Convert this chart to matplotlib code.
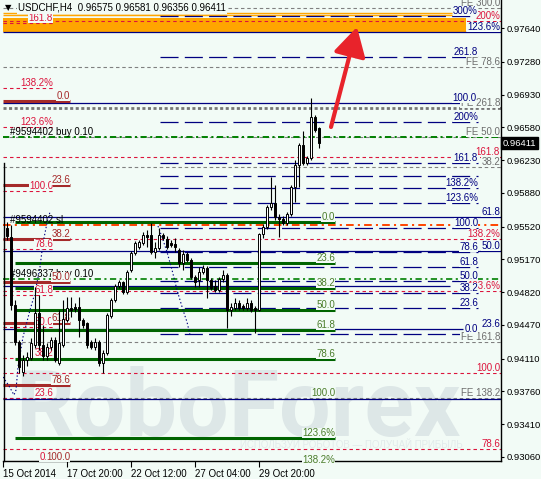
import matplotlib
matplotlib.use('Agg')
import matplotlib.pyplot as plt
import matplotlib.transforms as mtransforms
from matplotlib.patches import Rectangle, FancyArrowPatch

plt.rcParams['font.family'] = ['Liberation Sans', 'DejaVu Sans']
plt.rcParams['lines.scale_dashes'] = False

BG = '#f2fbf6'

# --- datos (USDCHF H4) ---
symbol_title = 'USDCHF,H4  0.96575 0.96581 0.96356 0.96411'
last_price = 0.96411

tick_bars = [0, 16, 32, 48, 64]
tick_dates = ['15 Oct 2014', '17 Oct 20:00', '22 Oct 12:00', '27 Oct 04:00', '29 Oct 20:00']
price_ticks = [0.9306, 0.9341, 0.9376, 0.9411, 0.9447, 0.9482, 0.9517,
               0.9552, 0.9588, 0.9623, 0.9658, 0.9693, 0.9728, 0.9764]

bars = list(range(1, 80))
opens = [0.95505, 0.95409, 0.94683, 0.94288, 0.93968, 0.94096, 0.94117, 0.94256, 0.94597, 0.94256,
         0.94138, 0.94234, 0.94309, 0.94064, 0.94256, 0.94523, 0.94651, 0.94662, 0.94662, 0.94523,
         0.94491, 0.94288, 0.94234, 0.94288, 0.94064, 0.94170, 0.94565, 0.94736, 0.94886, 0.94928,
         0.94822, 0.95057, 0.95238, 0.95302, 0.95345, 0.95430, 0.95430, 0.95249, 0.95291, 0.95430,
         0.95388, 0.95345, 0.95334, 0.95270, 0.95131, 0.95227, 0.95163, 0.94982, 0.94950, 0.95035,
         0.95078, 0.94950, 0.94886, 0.94843, 0.94960, 0.95003, 0.94629, 0.94651, 0.94704, 0.94672,
         0.94651, 0.94704, 0.94651, 0.94629, 0.95441, 0.95516, 0.95729, 0.95772, 0.95622, 0.95601,
         0.95558, 0.95654, 0.95943, 0.96178, 0.96391, 0.96199, 0.96252, 0.96690, 0.96575]
highs = [0.95569, 0.95537, 0.94736, 0.94309, 0.94149, 0.94181, 0.94331, 0.94875, 0.94790, 0.94469,
         0.94277, 0.94341, 0.94341, 0.94629, 0.94736, 0.94768, 0.94768, 0.94704, 0.94768, 0.94544,
         0.94501, 0.94309, 0.94331, 0.94309, 0.94202, 0.94597, 0.94758, 0.94907, 0.94950, 0.94939,
         0.95057, 0.95259, 0.95366, 0.95377, 0.95462, 0.95484, 0.95558, 0.95356, 0.95505, 0.95452,
         0.95419, 0.95377, 0.95398, 0.95291, 0.95270, 0.95249, 0.95185, 0.95003, 0.95089, 0.95110,
         0.95099, 0.94971, 0.94950, 0.94982, 0.95057, 0.95024, 0.94704, 0.94758, 0.94736, 0.94694,
         0.94758, 0.94736, 0.94672, 0.95452, 0.95548, 0.95750, 0.96049, 0.95964, 0.95654, 0.95633,
         0.95676, 0.95964, 0.96231, 0.96412, 0.96540, 0.96274, 0.96893, 0.96711, 0.96581]
lows = [0.95377, 0.94629, 0.94256, 0.93957, 0.93925, 0.94032, 0.94096, 0.94224, 0.94202, 0.94096,
        0.94096, 0.94202, 0.94074, 0.94042, 0.94234, 0.94501, 0.94555, 0.94608, 0.94341, 0.94437,
        0.94224, 0.94213, 0.94202, 0.94032, 0.93957, 0.94149, 0.94544, 0.94715, 0.94864, 0.94800,
        0.94800, 0.95035, 0.95217, 0.95281, 0.95324, 0.95302, 0.95227, 0.95185, 0.95270, 0.95377,
        0.95281, 0.95302, 0.95249, 0.95089, 0.95057, 0.95142, 0.94960, 0.94875, 0.94875, 0.95014,
        0.94758, 0.94843, 0.94822, 0.94822, 0.94928, 0.94437, 0.94565, 0.94629, 0.94629, 0.94629,
        0.94629, 0.94608, 0.94384, 0.94619, 0.95398, 0.95494, 0.95697, 0.95590, 0.95409, 0.95537,
        0.95537, 0.95633, 0.95782, 0.95943, 0.96178, 0.96178, 0.96231, 0.96530, 0.96356]
closes = [0.95419, 0.94683, 0.94288, 0.94021, 0.94096, 0.94128, 0.94277, 0.94597, 0.94256, 0.94138,
          0.94234, 0.94309, 0.94096, 0.94277, 0.94533, 0.94651, 0.94630, 0.94640, 0.94523, 0.94469,
          0.94256, 0.94234, 0.94288, 0.94064, 0.94170, 0.94576, 0.94736, 0.94886, 0.94928, 0.94822,
          0.95035, 0.95238, 0.95345, 0.95356, 0.95430, 0.95409, 0.95249, 0.95291, 0.95430, 0.95398,
          0.95302, 0.95324, 0.95302, 0.95131, 0.95227, 0.95163, 0.94982, 0.94928, 0.95035, 0.95078,
          0.94950, 0.94864, 0.94843, 0.94960, 0.95003, 0.94629, 0.94662, 0.94704, 0.94651, 0.94651,
          0.94704, 0.94629, 0.94629, 0.95441, 0.95516, 0.95729, 0.95772, 0.95622, 0.95601, 0.95558,
          0.95654, 0.95943, 0.96178, 0.96391, 0.96199, 0.96252, 0.96690, 0.96551, 0.96411]

# niveles Fibonacci (precio, etiqueta)
navy_exp_levels = [0.97768, 0.97330, 0.96636, 0.96199, 0.96060, 0.95932, 0.95772, 0.95505,
                   0.95249, 0.95089, 0.94939, 0.94811, 0.94651, 0.94373]
navy_exp_labels = ['300%', '261.8', '200%', '161.8', '', '138.2%', '123.6%', '100.0',
                   '78.6', '61.8', '50.0', '38.2', '23.6', '0.0']
navy_ret_levels = [0.97597, 0.96839, 0.95622, 0.95259, 0.94886, 0.94427, 0.93679]
navy_ret_labels = ['123.6%', '100.0', '61.8', '50.0', '', '23.6', '']
green_levels = [0.95569, 0.95131, 0.94864, 0.94629, 0.94416, 0.94106, 0.93690, 0.93263, 0.92975]
green_labels = ['0.0', '23.6', '38.2', '50.0', '61.8', '78.6', '100.0', '123.6%', '138.2%']
brown_levels = [0.96861, 0.95964, 0.95387, 0.94928, 0.94491, 0.93829, 0.93007]
brown_labels = ['0.0', '23.6', '38.2', '50.0', '61.8', '78.6', '100.0']
red_left_levels = [0.97694, 0.96999, 0.96583, 0.95900, 0.95281, 0.94790, 0.94448, 0.94117, 0.93690, 0.93007]
red_left_labels = ['161.8', '138.2%', '123.6%', '100.0', '78.6', '61.8', '50.0', '38.2', '23.6', '0.0']
red_right_levels = [0.97715, 0.96263, 0.95387, 0.94832, 0.93957, 0.93146]
red_right_labels = ['200%', '161.8', '138.2%', '123.6%', '100.0', '78.6']
gray_levels = [0.97854, 0.97224, 0.96786, 0.96476, 0.96156, 0.94288, 0.93690]
gray_labels = ['FE 300.0', 'FE 78.6', 'FE 261.8', 'FE 50.0', '38.2', 'FE 161.8', 'FE 138.2']

order_levels = [0.96476, 0.95537, 0.94960]
order_labels = ['#9594402 buy 0.10', '#9594402 sl', '#9496337 buy 0.10']

band_low, band_high = 0.97597, 0.97747
band_lines = [0.97800, 0.97779]

arc1_x = [0, 1.5, 2.75, 3.25, 3.75, 5, 6.75, 8, 9.25, 10, 11, 11.75]
arc1_y = [0.93914, 0.93818, 0.93722, 0.93775, 0.94021, 0.94341, 0.94629, 0.94811,
          0.95089, 0.95345, 0.95558, 0.95676]
arc2_x = [38.75, 40, 41, 42.25, 43.5, 45, 46, 46.75]
arc2_y = [0.95526, 0.95377, 0.95249, 0.95057, 0.94843, 0.94629, 0.94501, 0.94363]

arrow_start = (82, 0.96583)
arrow_end = (88.5, 0.97651)

XMAX = 124.5
RIGHT_LBL = 124.25


def hline(ax, y, x0, x1, color, lw, dashes=None, z=2):
    ln, = ax.plot([x0, x1], [y, y], color=color, lw=lw, zorder=z, solid_capstyle='butt')
    if dashes:
        ln.set_dashes(dashes)


def label(ax, x, y, s, color, z=4):
    if s:
        ax.text(x, y, s, color=color, fontsize=7, ha='right', va='bottom', zorder=z,
                bbox=dict(facecolor=BG, edgecolor='none', pad=0.2))


fig = plt.figure(figsize=(5.41, 4.79), dpi=100, facecolor=BG)
ax = fig.add_axes([3 / 541, 18 / 479, 498 / 541, 461 / 479])
ax.set_facecolor(BG)
ax.set_xlim(0, XMAX)
ax.set_ylim(0.93017, 0.97939)

# marca de agua
ax.text(3, 0.93284, 'RoboForex', fontsize=66, fontweight='bold', color='#dde7e7',
        family=['Roboto', 'DejaVu Sans'], ha='left', va='baseline', zorder=0.5)
ax.text(59.25, 0.93156, 'ИСПОЛЬЗУЙ РОБОТОВ — ПОЛУЧАЙ ПРИБЫЛЬ', fontsize=7, color='#e2ebeb',
        ha='left', va='baseline', zorder=0.5)

# franja naranja
ax.add_patch(Rectangle((0, band_low), 115.75, band_high - band_low, facecolor='#ffa500',
                       edgecolor='none', zorder=1))
for y in band_lines:
    hline(ax, y, 0, 112.25, '#ffa500', 1.0, z=1)

# lineas grises FE
for y, s in zip(gray_levels, gray_labels):
    if s == 'FE 261.8':
        hline(ax, y, 0, XMAX, '#777777', 2.0, (2.2, 1.8))
    else:
        hline(ax, y, 0, XMAX, '#808080', 0.8, (2.5, 2.0))

# rojas
for y in red_right_levels:
    hline(ax, y, 0, XMAX, '#dc143c', 0.8, (2.5, 2.2))
for y in red_left_levels:
    hline(ax, y, 0, 12.5, '#dc143c', 0.8, (2.5, 2.2))

# azul marino
ret_ends = [XMAX, 114.25, XMAX, XMAX, 111.75, 115, XMAX]
for y, x1 in zip(navy_ret_levels, ret_ends):
    hline(ax, y, 0, x1, '#000080', 0.9)
for y in navy_exp_levels:
    hline(ax, y, 39.25, 118.75, '#000080', 0.9, (13, 4.5))

# verdes y marrones gruesas
for y, s in zip(green_levels, green_labels):
    if s != '100.0':
        hline(ax, y, 3, 83, '#006400', 2.2, z=2.5)
for y in brown_levels:
    hline(ax, y, 0, 16.75, '#a52a2a', 2.2, z=2.5)

# ordenes
hline(ax, order_levels[0], 0, XMAX, '#008000', 1.4, (4.5, 2.5, 1.5, 2.5), z=3)
hline(ax, order_levels[1], 0, XMAX, '#ff4500', 1.4, (5.5, 3, 1.5, 3), z=3)
hline(ax, order_levels[2], 0, XMAX, '#008000', 1.2, (4.5, 2.5, 1.5, 2.5), z=3)
for y, s in zip(order_levels, order_labels):
    ax.text(1.75, y, s, fontsize=7, color='black', ha='left', va='bottom', zorder=3.5)

# arcos punteados
for xs, ys in [(arc1_x, arc1_y), (arc2_x, arc2_y)]:
    ln, = ax.plot(xs, ys, color='#000080', lw=0.8, zorder=3)
    ln.set_dashes((1, 1.6))

# velas
for i, o, h, l, c in zip(bars, opens, highs, lows, closes):
    ax.plot([i, i], [l, h], color='black', lw=0.8, zorder=5, solid_capstyle='butt')
    body = max(abs(c - o), 0.00003)
    ax.bar(i, body, bottom=min(o, c), width=0.7, color='white' if c >= o else 'black',
           edgecolor='black', linewidth=0.7, zorder=5.5)

# etiquetas
for y, s in zip(gray_levels, gray_labels):
    label(ax, RIGHT_LBL, y, s, '#6e6e6e')
for y, s in zip(red_right_levels, red_right_labels):
    label(ax, RIGHT_LBL, y, s, '#dc143c')
for y, s, x in zip(navy_ret_levels, navy_ret_labels,
                   [RIGHT_LBL, 118.25, RIGHT_LBL, RIGHT_LBL, RIGHT_LBL, RIGHT_LBL, RIGHT_LBL]):
    label(ax, x, y, s, '#000080')
for y, s in zip(navy_exp_levels, navy_exp_labels):
    label(ax, 118.75, y, s, '#000080')
for y, s in zip(green_levels, green_labels):
    label(ax, 83, y, s, '#4b7d2b')
for y, s in zip(red_left_levels, red_left_labels):
    label(ax, 12.5, y, s, '#dc143c')
for y, s in zip(brown_levels, brown_labels):
    label(ax, 16.75, y, s, '#a52a2a')

# flecha roja
ax.add_patch(FancyArrowPatch(arrow_start, arrow_end,
                             arrowstyle='-|>,head_length=0.8,head_width=0.45',
                             mutation_scale=22, color='#e8232b', lw=3, zorder=6,
                             shrinkA=0, shrinkB=0))

# linea vertical izquierda
ax.plot([0.15, 0.15], [0.93017, 0.96199], color='black', lw=1.0, zorder=4, clip_on=False)

# ejes
for side in ['top', 'left']:
    ax.spines[side].set_visible(False)
for side in ['right', 'bottom']:
    ax.spines[side].set_color('black')
    ax.spines[side].set_linewidth(1.0)

ax.yaxis.tick_right()
ax.set_yticks(price_ticks)
ax.set_yticklabels([f'{v:.5f}' for v in price_ticks])
ax.tick_params(axis='y', direction='out', length=2.5, width=0.8, pad=1.5, labelsize=6.8)
ax.set_xticks(tick_bars)
ax.set_xticklabels(tick_dates)
ax.tick_params(axis='x', direction='out', length=4, width=0.8, pad=2, labelsize=7)
for lbl in ax.get_xticklabels():
    lbl.set_ha('left')

trans = mtransforms.blended_transform_factory(ax.transAxes, ax.transData)
ax.text(1.004, last_price, f'{last_price:.5f}', transform=trans, ha='left', va='center',
        color='white', fontsize=6.8, clip_on=False, zorder=8,
        bbox=dict(facecolor='black', edgecolor='black', pad=1.2))

# titulo
fig.text(5 / 541, 1 - 8 / 479, '▼', fontsize=6, color='black', va='center', ha='left',
         family=['DejaVu Sans'])
fig.text(18 / 541, 1 - 8 / 479, symbol_title, fontsize=7, color='black', va='center', ha='left',
         bbox=dict(facecolor=BG, edgecolor='none', pad=0.5))

fig.savefig('out.png', dpi=100, facecolor=BG)
